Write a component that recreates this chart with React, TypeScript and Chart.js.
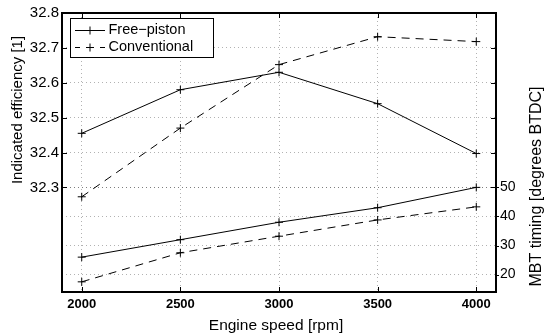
import React, { useEffect, useRef } from 'react';
import { Chart, registerables } from 'chart.js';

Chart.register(...registerables);

const speeds = [2000, 2500, 3000, 3500, 4000];
const effFreePiston = [32.455, 32.58, 32.63, 32.54, 32.397];
const effConventional = [32.273, 32.47, 32.652, 32.732, 32.718];
const mbtFreePiston = [26, 32, 38, 43, 50];
const mbtConventional = [17.5, 27.5, 33.2, 38.8, 43.3];
const effTicks = [32.3, 32.4, 32.5, 32.6, 32.7, 32.8];
const mbtTicks = [20, 30, 40, 50];
const seriesLabels = ['Free\u2212piston', 'Conventional'];
const xTitle = 'Engine speed [rpm]';
const yTitle = 'Indicated efficiency [1]';
const y2Title = 'MBT timing [degrees BTDC]';

const FONT = "'Liberation Sans', Arial, Helvetica, sans-serif";
const GRID = 'rgba(0,0,0,0.3)';
const DASH = [8, 6];

const toPts = (ys: number[]) => speeds.map((x, i) => ({ x, y: ys[i] }));

const decorPlugin = {
  id: 'decor',
  afterDraw(chart: any) {
    const { ctx, chartArea: a, scales } = chart;
    const sx = scales.x, sy = scales.y, sy2 = scales.y2;
    ctx.save();
    // tick marks
    ctx.strokeStyle = '#000';
    ctx.lineWidth = 1;
    ctx.setLineDash([]);
    ctx.beginPath();
    speeds.forEach((v) => {
      const px = Math.round(sx.getPixelForValue(v)) + 0.5;
      ctx.moveTo(px, a.bottom); ctx.lineTo(px, a.bottom - 5);
      ctx.moveTo(px, a.top); ctx.lineTo(px, a.top + 5);
    });
    effTicks.forEach((v) => {
      const py = Math.round(sy.getPixelForValue(v)) + 0.5;
      ctx.moveTo(a.left, py); ctx.lineTo(a.left + 5, py);
      ctx.moveTo(a.right, py); ctx.lineTo(a.right - 5, py);
    });
    mbtTicks.forEach((v) => {
      const py = Math.round(sy2.getPixelForValue(v)) + 0.5;
      ctx.moveTo(a.right, py); ctx.lineTo(a.right + 3, py);
    });
    ctx.stroke();
    // frame
    ctx.lineWidth = 2;
    ctx.strokeRect(a.left, a.top, a.right - a.left, a.bottom - a.top);

    // legend
    const lx = 70.5, ly = 18.5, lw = 143, lh = 39;
    ctx.fillStyle = '#fff';
    ctx.fillRect(lx, ly, lw, lh);
    ctx.lineWidth = 1;
    ctx.strokeStyle = '#000';
    ctx.strokeRect(lx, ly, lw, lh);
    const rows = [30, 47];
    seriesLabels.forEach((label, i) => {
      const ds = chart.data.datasets[i];
      const y = rows[i] + 0.5;
      ctx.beginPath();
      if (ds.borderDash) {
        ctx.moveTo(75, y); ctx.lineTo(80, y);
        ctx.moveTo(100, y); ctx.lineTo(105, y);
      } else {
        ctx.moveTo(75, y); ctx.lineTo(105, y);
      }
      ctx.moveTo(86, y); ctx.lineTo(94, y);
      ctx.moveTo(90, y - 4); ctx.lineTo(90, y + 4);
      ctx.stroke();
      ctx.fillStyle = '#000';
      ctx.font = `14.5px ${FONT}`;
      ctx.textAlign = 'left';
      ctx.textBaseline = 'middle';
      ctx.fillText(label, 108.5, rows[i]);
    });

    // titles
    ctx.fillStyle = '#000';
    ctx.textAlign = 'center';
    ctx.textBaseline = 'alphabetic';
    ctx.font = `15.5px ${FONT}`;
    ctx.fillText(xTitle, 276, 330);

    ctx.save();
    ctx.translate(22, 110);
    ctx.rotate(-Math.PI / 2);
    ctx.font = `15px ${FONT}`;
    ctx.fillText(yTitle, 0, 0);
    ctx.restore();

    ctx.save();
    ctx.translate(541, 186.5);
    ctx.rotate(-Math.PI / 2);
    ctx.font = `16px ${FONT}`;
    ctx.fillText(y2Title, 0, 0);
    ctx.restore();

    ctx.restore();
  },
};

export default function App() {
  const ref = useRef<HTMLCanvasElement>(null);
  useEffect(() => {
    document.body.style.margin = '0';
    const canvas = ref.current!;
    const common = {
      borderColor: '#000',
      borderWidth: 1,
      pointStyle: 'cross',
      pointRadius: 4,
      pointBorderColor: '#000',
      pointBorderWidth: 1,
      pointHoverRadius: 4,
      tension: 0,
      fill: false,
      showLine: true,
    };
    const chart = new Chart(canvas, {
      type: 'line',
      data: {
        datasets: [
          { ...common, label: seriesLabels[0], data: toPts(effFreePiston), yAxisID: 'y' },
          { ...common, label: seriesLabels[1], data: toPts(effConventional), yAxisID: 'y', borderDash: DASH },
          { ...common, label: seriesLabels[0] + ' MBT', data: toPts(mbtFreePiston), yAxisID: 'y2' },
          { ...common, label: seriesLabels[1] + ' MBT', data: toPts(mbtConventional), yAxisID: 'y2', borderDash: DASH },
        ],
      } as any,
      options: {
        animation: false,
        responsive: false,
        devicePixelRatio: 1,
        layout: { padding: { top: 13, left: 0, right: 0, bottom: 0 } },
        plugins: { legend: { display: false }, tooltip: { enabled: false } },
        font: { family: FONT },
        scales: {
          x: {
            type: 'linear',
            min: 1900,
            max: 4100,
            afterBuildTicks: (s: any) => { s.ticks = speeds.map((v) => ({ value: v })); },
            afterFit: (s: any) => { s.height = 44; },
            grid: { color: GRID, lineWidth: 1, drawTicks: false },
            border: { display: false, dash: [1, 3] },
            ticks: {
              autoSkip: false,
              maxRotation: 0,
              color: '#000',
              padding: 5,
              font: { family: FONT, size: 13, weight: 'bold' },
              callback: (v: any) => String(v),
            },
          },
          y: {
            type: 'linear',
            position: 'left',
            min: 32.0,
            max: 32.8,
            afterBuildTicks: (s: any) => { s.ticks = effTicks.map((v) => ({ value: v })); },
            afterFit: (s: any) => { s.width = 62; },
            grid: { color: GRID, lineWidth: 1, drawTicks: false },
            border: { display: false, dash: [1, 3] },
            ticks: {
              autoSkip: false,
              color: '#000',
              padding: 3,
              font: { family: FONT, size: 15 },
              callback: (v: any) => Number(v).toFixed(1),
            },
          },
          y2: {
            type: 'linear',
            position: 'right',
            min: 14,
            max: 110,
            afterBuildTicks: (s: any) => { s.ticks = mbtTicks.map((v) => ({ value: v })); },
            afterFit: (s: any) => { s.width = 48; },
            grid: { color: GRID, lineWidth: 1, drawTicks: false },
            border: { display: false, dash: [1, 3] },
            ticks: {
              autoSkip: false,
              color: '#000',
              padding: 4,
              font: { family: FONT, size: 14 },
              callback: (v: any) => String(v),
            },
          },
        },
      } as any,
      plugins: [decorPlugin],
    });
    return () => chart.destroy();
  }, []);
  return (
    <div style={{ width: 544, height: 336 }}>
      <canvas ref={ref} width={544} height={336} style={{ display: 'block', width: 544, height: 336 }} />
    </div>
  );
}
